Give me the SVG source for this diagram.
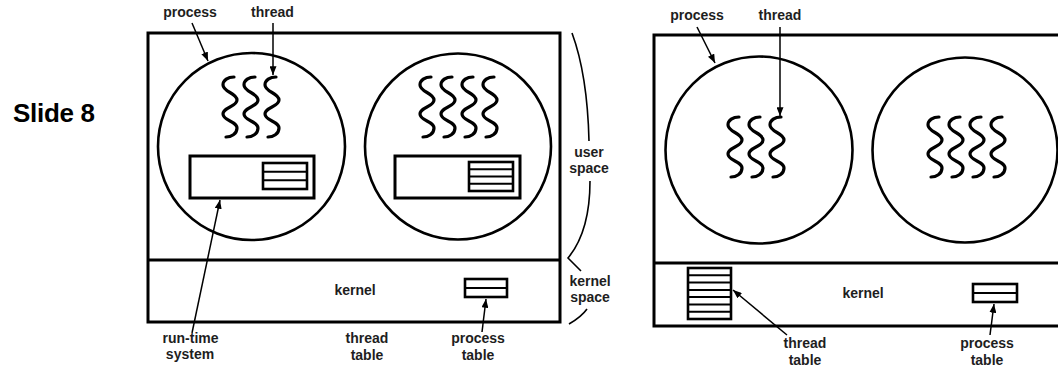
<svg xmlns="http://www.w3.org/2000/svg" xmlns:xlink="http://www.w3.org/1999/xlink" width="1058" height="368" viewBox="0 0 1058 368">
<style>
.box{fill:none;stroke:#000;stroke-width:3}
.circ{fill:none;stroke:#000;stroke-width:2.6}
.sq{fill:none;stroke:#000;stroke-width:3.2;stroke-linecap:round}
.tbl{fill:#fff;stroke:#000;stroke-width:2.6}
.row{stroke:#000;stroke-width:2}
.lbl{font-family:"Liberation Sans",Arial,sans-serif;font-weight:bold;font-size:14px;fill:#1e1e1e;text-anchor:middle}
.conn{fill:none;stroke:#000;stroke-width:1.5}
.brace{fill:none;stroke:#000;stroke-width:1.6}
</style>
<defs>
<marker id="arr" viewBox="0 0 10 8" markerWidth="9" markerHeight="7" refX="10" refY="4" orient="auto" markerUnits="userSpaceOnUse">
<path d="M0,0 L10,4 L0,8 Z" fill="#000"/>
</marker>
<path id="sq" class="sq" d="M11,0 C5,0 0,3 0,8 C0,15 14,16 14,23 C14,30 0,30 0,37 C0,44 14,44 14,51 C14,57 8,60 3,60"/>
</defs>
<rect width="1058" height="368" fill="#fff"/>
<text id="title" x="13" y="122" font-family="Liberation Sans,Arial,sans-serif" font-weight="bold" font-size="26" textLength="82" fill="#000">Slide 8</text>

<!-- Left diagram: user-level threads -->
<g id="left-frame">
<rect class="box" x="148" y="33" width="412" height="289"/>
<line class="box" x1="148" y1="260" x2="560" y2="260"/>
</g>
<g id="left-process1">
<circle class="circ" cx="251.5" cy="146.5" r="93.5"/>
<use xlink:href="#sq" x="223" y="77"/>
<use xlink:href="#sq" x="244" y="77"/>
<use xlink:href="#sq" x="265" y="77"/>
</g>
<g id="left-rts1">
<rect class="box" x="190" y="156" width="124" height="42"/>
<rect class="tbl" x="263" y="163" width="44" height="26"/>
<line class="row" x1="263" y1="171.7" x2="307" y2="171.7"/>
<line class="row" x1="263" y1="180.3" x2="307" y2="180.3"/>
</g>
<g id="left-process2">
<circle class="circ" cx="458" cy="146.5" r="93"/>
<use xlink:href="#sq" x="420" y="77"/>
<use xlink:href="#sq" x="441" y="77"/>
<use xlink:href="#sq" x="462" y="77"/>
<use xlink:href="#sq" x="483" y="77"/>
</g>
<g id="left-rts2">
<rect class="box" x="395" y="156" width="125" height="42"/>
<rect class="tbl" x="469" y="162" width="44" height="29"/>
<line class="row" x1="469" y1="169.2" x2="513" y2="169.2"/>
<line class="row" x1="469" y1="176.5" x2="513" y2="176.5"/>
<line class="row" x1="469" y1="183.8" x2="513" y2="183.8"/>
</g>
<g id="left-kernel">
<text class="lbl" x="355" y="295">kernel</text>
<rect class="tbl" x="465" y="279" width="42" height="18"/>
<line class="row" x1="465" y1="288" x2="507" y2="288"/>
</g>
<g id="left-labels">
<text class="lbl" x="190" y="17">process</text>
<text class="lbl" x="272.5" y="17">thread</text>
<text class="lbl" x="190.5" y="343">run-time</text>
<text class="lbl" x="190" y="359">system</text>
<text class="lbl" x="367" y="343">thread</text>
<text class="lbl" x="367" y="360">table</text>
<text class="lbl" x="478" y="343">process</text>
<text class="lbl" x="478" y="360">table</text>
<text class="lbl" x="589" y="157">user</text>
<text class="lbl" x="589" y="173">space</text>
<text class="lbl" x="590" y="286">kernel</text>
<text class="lbl" x="590" y="302">space</text>
</g>
<g id="left-brace">
<path class="brace" d="M572,33 C582,60 588,100 589,141"/>
<path class="brace" d="M590,181 C590,215 583,240 568,258 L581,271"/>
<path class="brace" d="M587,309 C582,316 576,320 569,324"/>
</g>

<!-- Right diagram: kernel-level threads -->
<g id="right-frame">
<path class="box" d="M1070,35 L654,35 L654,326 L1070,326"/>
<line class="box" x1="654" y1="263" x2="1070" y2="263"/>
</g>
<g id="right-process1">
<circle class="circ" cx="759" cy="150" r="93.5"/>
<use xlink:href="#sq" x="728" y="117"/>
<use xlink:href="#sq" x="749" y="117"/>
<use xlink:href="#sq" x="770" y="117"/>
</g>
<g id="right-process2">
<circle class="circ" cx="965" cy="150" r="92.5"/>
<use xlink:href="#sq" x="928" y="117"/>
<use xlink:href="#sq" x="949" y="117"/>
<use xlink:href="#sq" x="970" y="117"/>
<use xlink:href="#sq" x="991" y="117"/>
</g>
<g id="right-thread-table">
<rect class="tbl" x="688" y="268" width="43" height="51"/>
<line class="row" x1="688" y1="275.3" x2="731" y2="275.3"/>
<line class="row" x1="688" y1="282.6" x2="731" y2="282.6"/>
<line class="row" x1="688" y1="289.9" x2="731" y2="289.9"/>
<line class="row" x1="688" y1="297.1" x2="731" y2="297.1"/>
<line class="row" x1="688" y1="304.4" x2="731" y2="304.4"/>
<line class="row" x1="688" y1="311.7" x2="731" y2="311.7"/>
</g>
<g id="right-kernel">
<text class="lbl" x="863" y="298">kernel</text>
<rect class="tbl" x="973" y="284" width="44" height="18"/>
<line class="row" x1="973" y1="293" x2="1017" y2="293"/>
</g>
<g id="right-labels">
<text class="lbl" x="697" y="20">process</text>
<text class="lbl" x="780" y="20">thread</text>
<text class="lbl" x="805" y="348">thread</text>
<text class="lbl" x="805" y="365">table</text>
<text class="lbl" x="987" y="348">process</text>
<text class="lbl" x="987" y="365">table</text>
</g>

<g id="connectors">
<line class="conn" x1="192" y1="23" x2="208" y2="61" marker-end="url(#arr)"/>
<line class="conn" x1="273" y1="23" x2="273" y2="75" marker-end="url(#arr)"/>
<line class="conn" x1="192" y1="333" x2="220" y2="200" marker-end="url(#arr)"/>
<line class="conn" x1="482" y1="332" x2="486" y2="299" marker-end="url(#arr)"/>
<line class="conn" x1="697" y1="27" x2="715" y2="63" marker-end="url(#arr)"/>
<line class="conn" x1="780" y1="27" x2="780" y2="116" marker-end="url(#arr)"/>
<line class="conn" x1="787" y1="335" x2="733" y2="290" marker-end="url(#arr)"/>
<line class="conn" x1="990" y1="335" x2="994" y2="304" marker-end="url(#arr)"/>
</g>
</svg>
